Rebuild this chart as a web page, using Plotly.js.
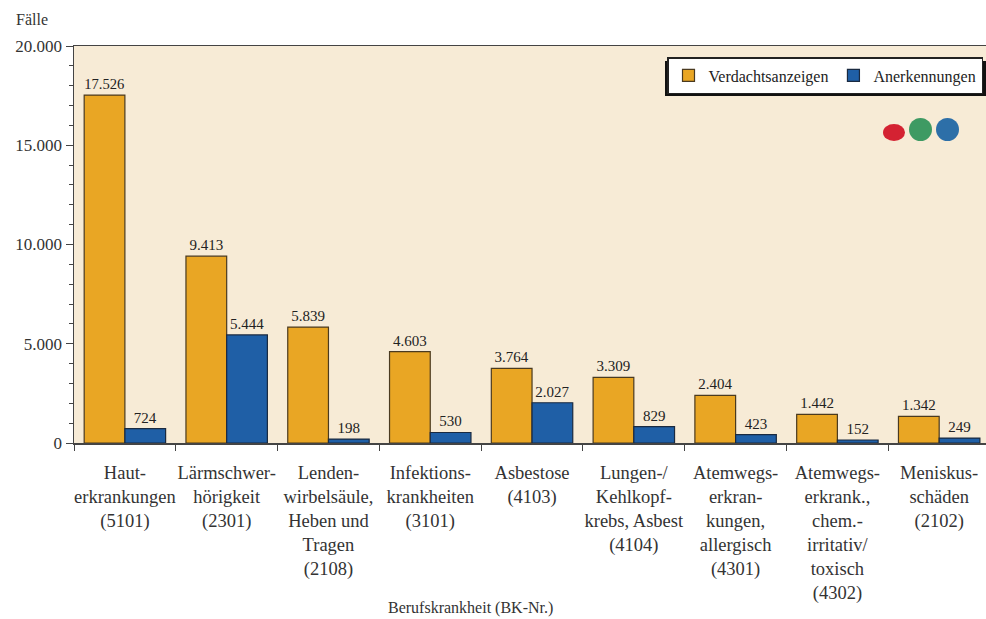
<!DOCTYPE html>
<html>
<head>
<meta charset="utf-8">
<script src="https://cdn.plot.ly/plotly-3.0.1.min.js"></script>
<style>html,body{margin:0;padding:0;background:#fff;}#chart{width:986px;height:619px;}</style>
</head>
<body>
<div id="chart"></div>
<script>
const categories = [
  "Haut-<br>erkrankungen<br>(5101)",
  "Lärmschwer-<br>hörigkeit<br>(2301)",
  "Lenden-<br>wirbelsäule,<br>Heben und<br>Tragen<br>(2108)",
  "Infektions-<br>krankheiten<br>(3101)",
  "Asbestose<br>(4103)",
  "Lungen-/<br>Kehlkopf-<br>krebs, Asbest<br>(4104)",
  "Atemwegs-<br>erkran-<br>kungen,<br>allergisch<br>(4301)",
  "Atemwegs-<br>erkrank.,<br>chem.-<br>irritativ/<br>toxisch<br>(4302)",
  "Meniskus-<br>schäden<br>(2102)"
];
const verdachtsanzeigen = [17526, 9413, 5839, 4603, 3764, 3309, 2404, 1442, 1342];
const anerkennungen = [724, 5444, 198, 530, 2027, 829, 423, 152, 249];
const yTickValues = [0, 5000, 10000, 15000, 20000];

const serif = "Liberation Serif, Times New Roman, serif";
const L = 74, T = 46, W = 912, H = 397;
const px = x => (x - L) / W;
const py = y => (T + H - y) / H;

const traces = [
  {
    type: "bar", name: "Verdachtsanzeigen", x: categories, y: verdachtsanzeigen,
    marker: {color: "#E9A624", line: {color: "#4a3a20", width: 1.2}},
    texttemplate: "%{y:,d}", textposition: "outside", cliponaxis: false,
    textfont: {family: serif, size: 15, color: "#222"}
  },
  {
    type: "bar", name: "Anerkennungen", x: categories, y: anerkennungen,
    marker: {color: "#1F5FA6", line: {color: "#1a2a40", width: 1.2}},
    texttemplate: "%{y:,d}", textposition: "outside", cliponaxis: false,
    textfont: {family: serif, size: 15, color: "#222"}
  }
];

const layout = {
  width: 986, height: 619,
  margin: {l: L, r: 0, t: T, b: 619 - T - H},
  paper_bgcolor: "#ffffff",
  plot_bgcolor: "#F7EBD6",
  separators: ",.",
  barmode: "group", bargap: 0.2, bargroupgap: 0,
  font: {family: serif, size: 17, color: "#333"},
  showlegend: true,
  legend: {
    orientation: "h", x: px(983), xanchor: "right", y: py(57), yanchor: "top",
    bgcolor: "#ffffff", bordercolor: "#222", borderwidth: 1.5,
    font: {family: serif, size: 16, color: "#222"},
    traceorder: "normal"
  },
  xaxis: {
    type: "category", range: [-0.5, 8.46],
    showline: true, linecolor: "#444", linewidth: 1.5, mirror: true,
    ticks: "outside", tickson: "boundaries", ticklen: 6, tickcolor: "#444",
    tickangle: 0, automargin: false, ticklabelstandoff: 12,
    showgrid: false, fixedrange: true,
    tickfont: {family: serif, size: 18.5, color: "#333"}
  },
  yaxis: {
    range: [0, 20000], tickvals: yTickValues, tickformat: ",d",
    showline: true, linecolor: "#444", linewidth: 1.5,
    ticks: "outside", ticklen: 7, tickcolor: "#444",
    minor: {dtick: 1000, ticks: "outside", ticklen: 4, tickcolor: "#444", showgrid: false},
    showgrid: false, zeroline: false, fixedrange: true,
    tickfont: {family: serif, size: 17, color: "#333"}
  },
  annotations: [
    {text: "Fälle", xref: "paper", yref: "paper", x: px(14), y: py(20),
     xanchor: "left", yanchor: "middle", showarrow: false,
     font: {family: serif, size: 16, color: "#333"}},
    {text: "Berufskrankheit (BK-Nr.)", xref: "paper", yref: "paper", x: px(470), y: py(608),
     xanchor: "center", yanchor: "middle", showarrow: false,
     font: {family: serif, size: 16, color: "#333"}}
  ],
  shapes: [
    {type: "rect", xref: "paper", yref: "paper", x0: px(665), x1: px(987), y0: py(96), y1: py(61),
     fillcolor: "#111", line: {width: 0}, layer: "above"},
    {type: "circle", xref: "paper", yref: "paper", x0: px(883), x1: px(905), y0: py(141), y1: py(124),
     fillcolor: "#D42232", line: {width: 0}, layer: "above"},
    {type: "circle", xref: "paper", yref: "paper", x0: px(909), x1: px(932), y0: py(141), y1: py(118),
     fillcolor: "#3E9A63", line: {width: 0}, layer: "above"},
    {type: "circle", xref: "paper", yref: "paper", x0: px(936), x1: px(959), y0: py(141), y1: py(118),
     fillcolor: "#2D6FA8", line: {width: 0}, layer: "above"}
  ]
};

Plotly.newPlot("chart", traces, layout, {displayModeBar: false, staticPlot: true});
</script>
</body>
</html>
